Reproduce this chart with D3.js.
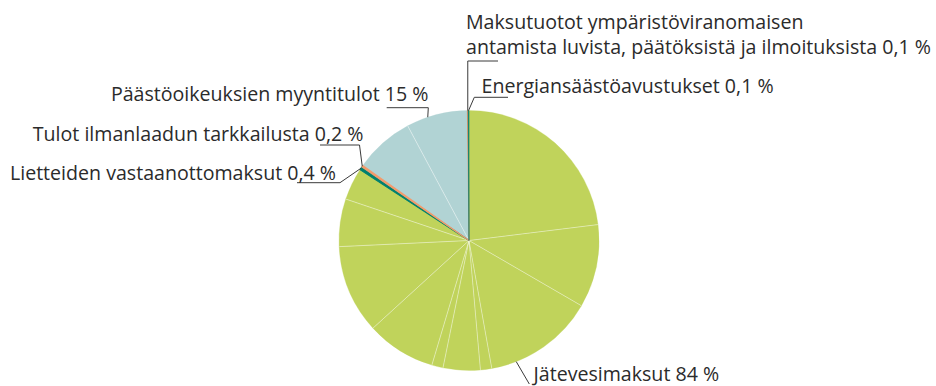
<!DOCTYPE html>
<html>
<head>
<meta charset="utf-8">
<script src="https://cdn.jsdelivr.net/npm/d3@7"></script>
<style>
  html, body { margin: 0; padding: 0; background: #fff; }
  svg text { font-family: "Open Sans", "Noto Sans", sans-serif; fill: #2b2b2b; }
</style>
</head>
<body>
<svg id="chart" width="936" height="386"></svg>
<script>
// Revenue sources, share of total (%)
const categories = [
  "Jätevesimaksut",
  "Lietteiden vastaanottomaksut",
  "Tulot ilmanlaadun tarkkailusta",
  "Päästöoikeuksien myyntitulot",
  "Maksutuotot ympäristöviranomaisen antamista luvista, päätöksistä ja ilmoituksista",
  "Energiansäästöavustukset"
];
const shares = [84, 0.4, 0.2, 15, 0.1, 0.1];
const shareLabels = ["84 %", "0,4 %", "0,2 %", "15 %", "0,1 %", "0,1 %"];
const colors = ["#c0d35b", "#00806e", "#f29b6c", "#b1d3d4", "#f0844f", "#00806e"];

// Sub-items inside the two large categories (sum to their category share)
const wastewaterParts = [23.0, 10.3, 13.8, 1.4, 4.6, 1.4, 8.6, 11.0, 5.9, 4.0];
const allowanceParts = [7.4, 7.6];
const subParts = [wastewaterParts, [0.4], [0.2], allowanceParts, [0.1], [0.1]];

const svg = d3.select("#chart");
const cx = 469, cy = 240.5, R = 130;
const g = svg.append("g").attr("transform", `translate(${cx},${cy})`);

const pie = d3.pie().sort(null).value(d => d);
const arcs = pie(shares);
const arc = d3.arc().innerRadius(0).outerRadius(R);

// large categories first, thin slivers on top so they stay visible
const order = d3.range(arcs.length).sort((a, b) => d3.descending(shares[a], shares[b]));
order.forEach(i => {
  const a = arcs[i];
  const sub = d3.pie().sort(null).value(d => d)
    .startAngle(a.startAngle).endAngle(a.endAngle)(subParts[i]);
  g.selectAll(null).data(sub).enter().append("path")
    .attr("d", arc)
    .attr("fill", colors[i])
    .attr("stroke", colors[i])
    .attr("stroke-linejoin", "miter")
    .attr("stroke-width", shares[i] < 0.15 ? 0.6 : shares[i] < 1 ? 1.1 : 0.3);
  // faint separators between sub-items
  sub.slice(1).forEach(s => {
    const p = d3.pointRadial(s.startAngle, R);
    g.append("line")
      .attr("x1", 0).attr("y1", 0).attr("x2", p[0]).attr("y2", p[1])
      .attr("stroke", "#ffffff").attr("stroke-opacity", 0.55).attr("stroke-width", 0.8);
  });
});

const lineColor = "#3a3a3a";
const fs = 19.6;
function leader(points) {
  svg.append("path")
    .attr("d", d3.line()(points))
    .attr("fill", "none").attr("stroke", lineColor).attr("stroke-width", 1);
}
function edgePoint(i) {
  const a = arcs[i];
  const p = d3.pointRadial((a.startAngle + a.endAngle) / 2, R);
  return [cx + p[0], cy + p[1]];
}
function label(text, x, y, anchor) {
  svg.append("text").attr("x", x).attr("y", y)
    .attr("text-anchor", anchor || "start")
    .attr("font-size", fs).text(text);
}

// Jätevesimaksut
{
  const p = d3.pointRadial(158.7 * Math.PI / 180, R);
  leader([[cx + p[0], cy + p[1]], [529.3, 384]]);
  label(`${categories[0]} ${shareLabels[0]}`, 533.5, 381);
}
// Lietteiden vastaanottomaksut
{
  const p = edgePoint(1);
  leader([[p[0], p[1]], [340, 182.7], [297, 182.7]]);
  label(`${categories[1]} ${shareLabels[1]}`, 336, 180, "end");
}
// Tulot ilmanlaadun tarkkailusta
{
  const p = edgePoint(2);
  leader([[p[0], p[1]], [359.5, 145], [320, 145]]);
  label(`${categories[2]} ${shareLabels[2]}`, 363.5, 140.5, "end");
}
// Päästöoikeuksien myyntitulot
{
  const p = d3.pointRadial(341.5 * Math.PI / 180, R);
  leader([[cx + p[0], cy + p[1]], [428.3, 107.7], [386.7, 107.7]]);
  label(`${categories[3]} ${shareLabels[3]}`, 428.5, 101, "end");
}
// Maksutuotot
{
  const p = edgePoint(4);
  leader([[p[0], p[1]], [p[0], 61], [498, 61]]);
  svg.append("text").attr("x", 466).attr("y", 29).attr("font-size", fs)
    .text("Maksutuotot ympäristöviranomaisen");
  svg.append("text").attr("x", 466).attr("y", 54).attr("font-size", fs)
    .text(`antamista luvista, päätöksistä ja ilmoituksista ${shareLabels[4]}`);
}
// Energiansäästöavustukset
{
  const p = edgePoint(5);
  leader([[p[0], p[1]], [474.3, 97.3], [508, 97.3]]);
  label(`${categories[5]} ${shareLabels[5]}`, 481.5, 93);
}
</script>
</body>
</html>
